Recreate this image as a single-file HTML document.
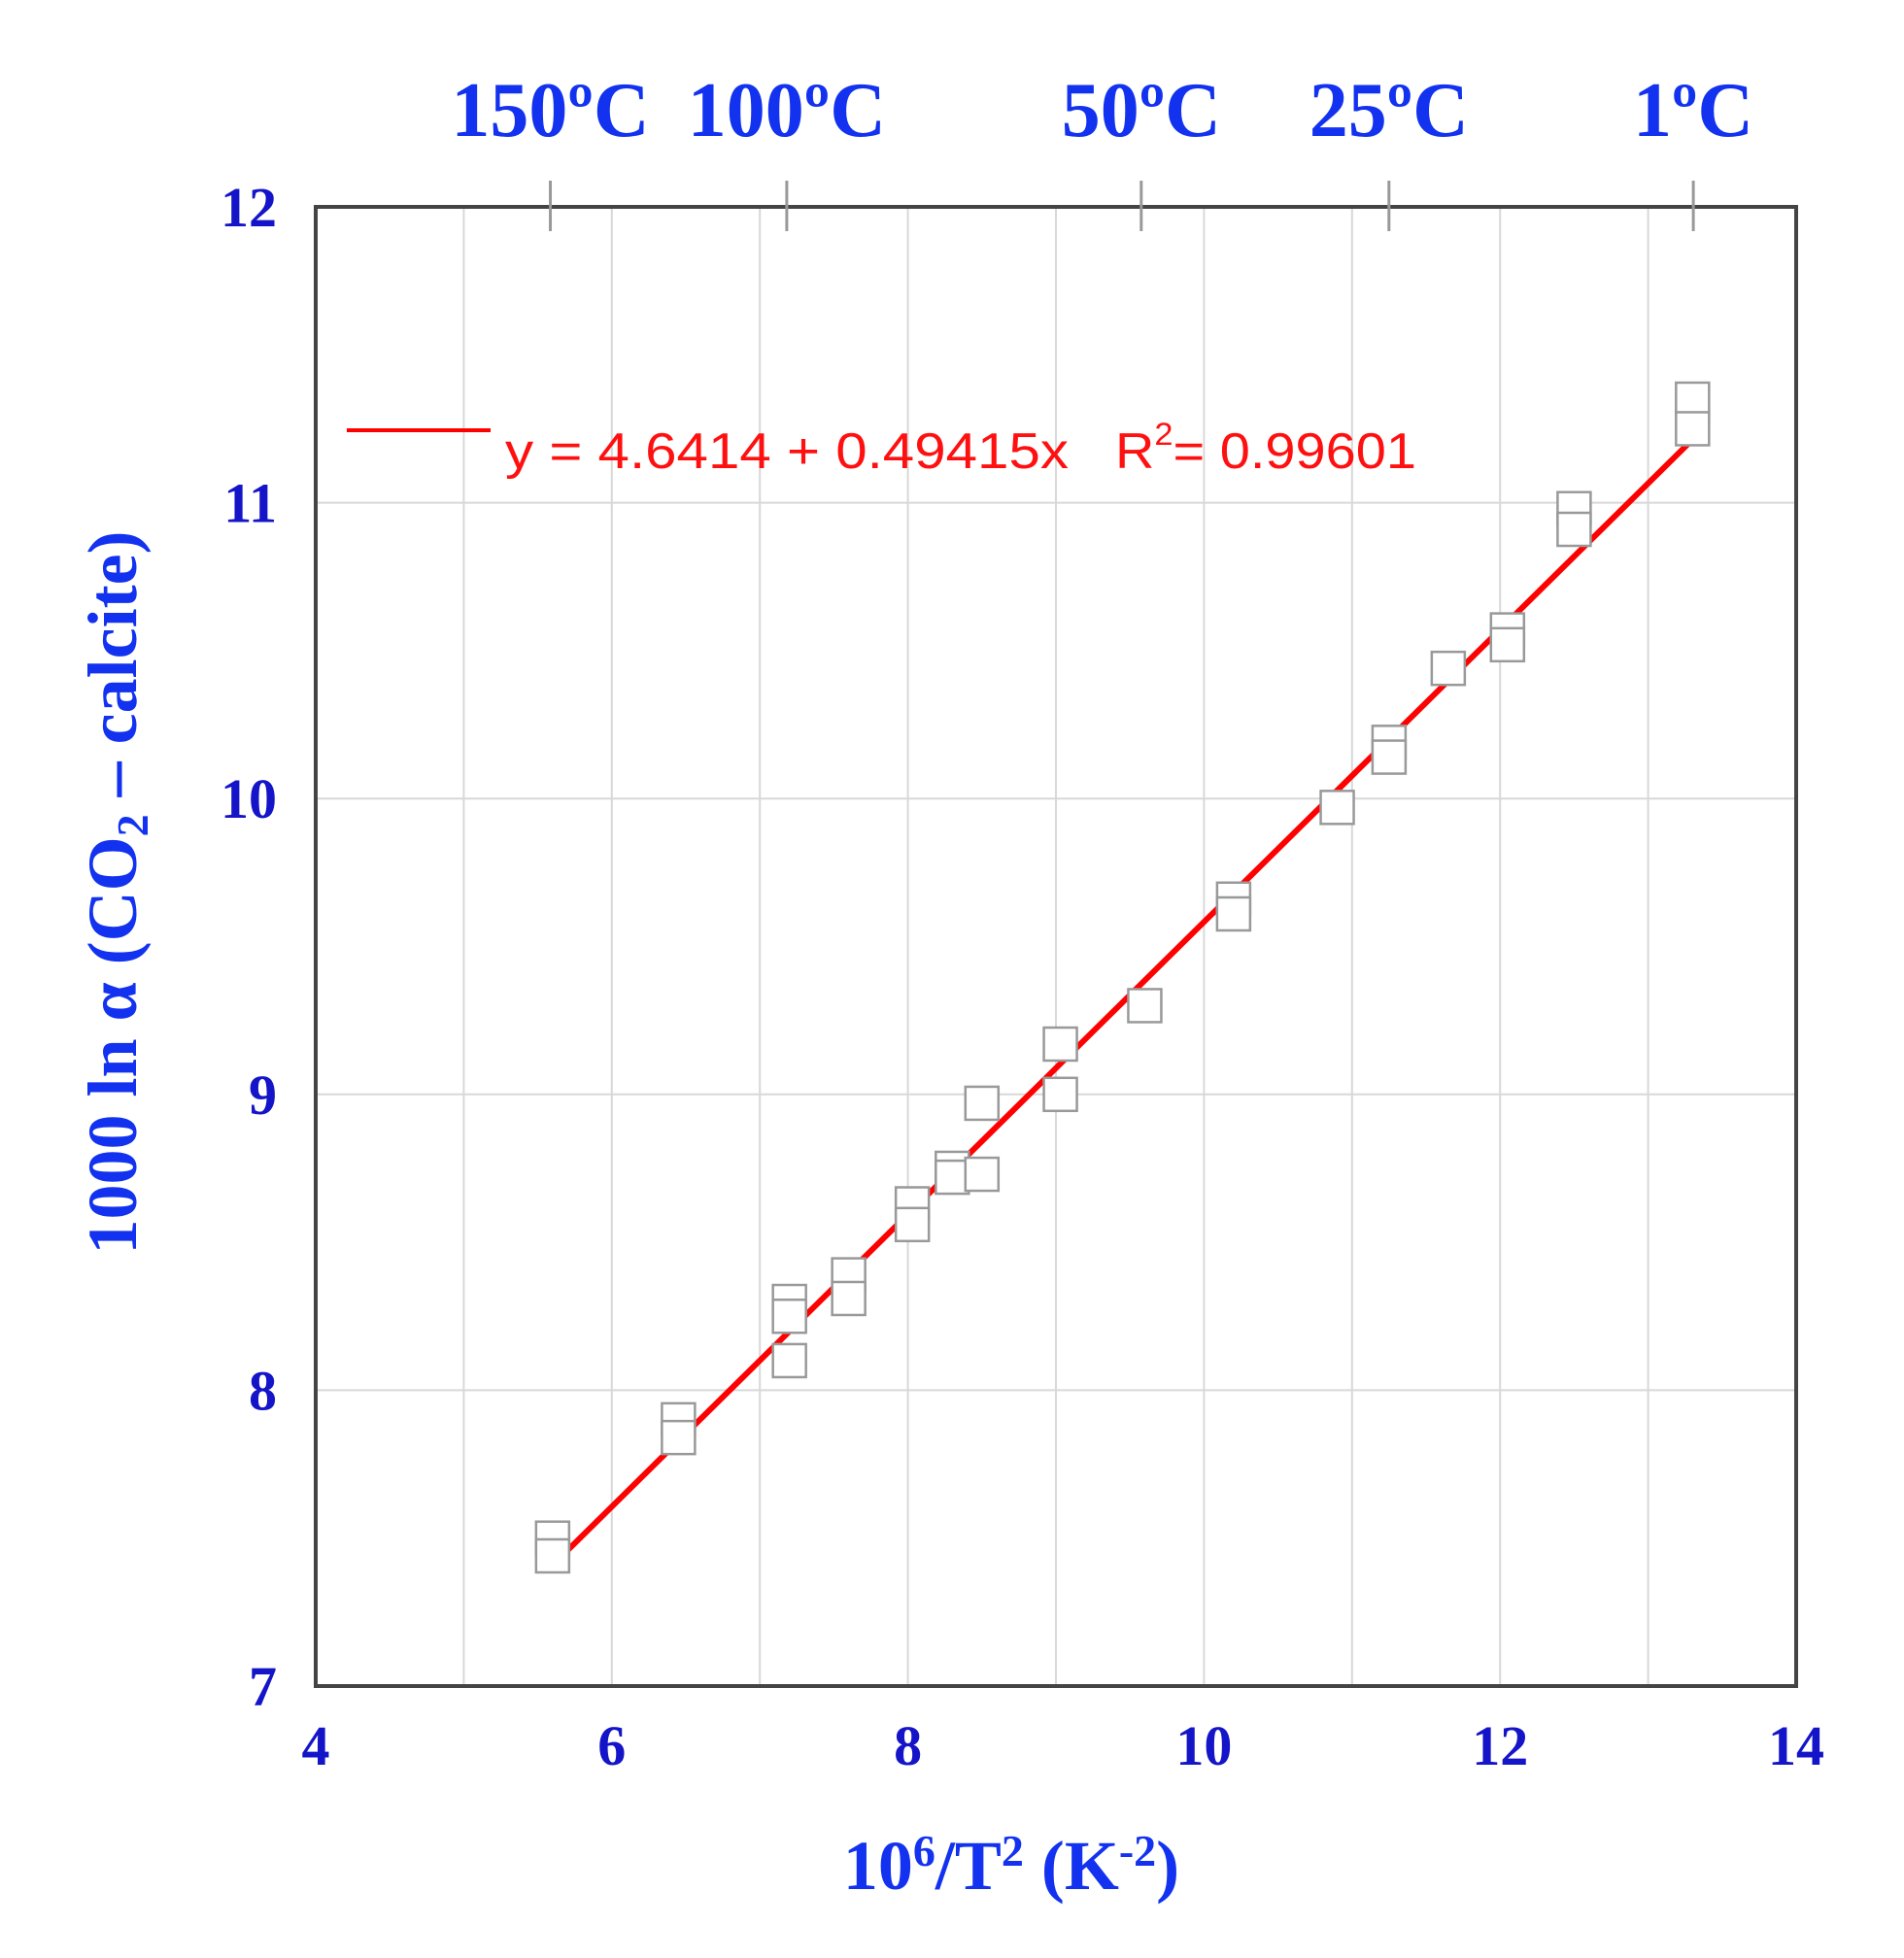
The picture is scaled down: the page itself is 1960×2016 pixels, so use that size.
<!DOCTYPE html>
<html><head><meta charset="utf-8"><style>
html,body{margin:0;padding:0;background:#fff}
svg{display:block}
.tick{font-family:"Liberation Serif",serif;font-weight:bold;font-size:58px;fill:#1414c8}
.top{font-family:"Liberation Serif",serif;font-weight:bold;font-size:80px;fill:#1232f0}
.title{font-family:"Liberation Serif",serif;font-weight:bold;font-size:72px;fill:#1232f0}
</style></head><body>
<svg id="chart" width="1960" height="2016" xmlns="http://www.w3.org/2000/svg">
<g id="grid"></g>
<g id="fit"></g>
<g id="pts"></g>
<rect x="325" y="213" width="1524" height="1523" fill="none" stroke="#444" stroke-width="4"/>
<g id="labels"></g>
<line x1="357" y1="443" x2="505" y2="443" stroke="#ff0000" stroke-width="4"/>
<text x="520" y="482" font-family="Liberation Sans, sans-serif" font-size="52" fill="#ff1010" textLength="580" lengthAdjust="spacingAndGlyphs">y = 4.6414 + 0.49415x</text>
<text x="1148" y="482" font-family="Liberation Sans, sans-serif" font-size="52" fill="#ff1010" textLength="310" lengthAdjust="spacingAndGlyphs">R<tspan font-size="32" dy="-24">2</tspan><tspan dy="24">= 0.99601</tspan></text>
<text class="title" transform="translate(140,919) rotate(-90)" text-anchor="middle">1000 ln α (CO<tspan font-size="46" dy="12">2</tspan><tspan dy="-12"> – calcite)</tspan></text>
<text class="title" x="1041" y="1945" text-anchor="middle">10<tspan font-size="46" dy="-24">6</tspan><tspan dy="24">/T</tspan><tspan font-size="46" dy="-24">2</tspan><tspan dy="24"> (K</tspan><tspan font-size="46" dy="-24">-2</tspan><tspan dy="24">)</tspan></text>
</svg>
<script>
const xTicks=[4,6,8,10,12,14];
const yTicks=[7,8,9,10,11,12];
const tempC=[150,100,50,25,1];
const tempLabels=["150ºC","100ºC","50ºC","25ºC","1ºC"];
const ptX=[5.6,5.6,6.45,6.45,7.2,7.2,7.2,7.6,7.6,8.03,8.03,8.3,8.3,8.5,8.5,9.03,9.03,9.6,10.2,10.2,10.9,11.25,11.25,11.65,12.05,12.05,12.5,12.5,13.3,13.3];
const ptY=[7.50,7.44,7.90,7.84,8.30,8.25,8.10,8.39,8.31,8.63,8.56,8.75,8.72,8.97,8.73,9.17,9.00,9.30,9.66,9.61,9.97,10.19,10.14,10.44,10.57,10.52,10.98,10.91,11.35,11.25];
const fitA=4.6414, fitB=0.49415, fitRange=[5.6,13.3];
const X0=325,X1=1849,Y0=1736,Y1=213;
const sx=v=>X0+(v-4)/(14-4)*(X1-X0);
const sy=v=>Y0-(v-7)/(12-7)*(Y0-Y1);
const NS="http://www.w3.org/2000/svg";
function mk(tag,parent,attrs){const e=document.createElementNS(NS,tag);for(const k in attrs)e.setAttribute(k,attrs[k]);parent.appendChild(e);return e;}
const grid=document.getElementById('grid'),labels=document.getElementById('labels');
for(let v=4;v<=14;v++){const l=mk('line',grid,{x1:sx(v),x2:sx(v),y1:Y1,y2:Y0,stroke:'#d8d8d8','stroke-width':2});

}
for(let v=7;v<=12;v++){const l=mk('line',grid,{x1:X0,x2:X1,y1:sy(v),y2:sy(v),stroke:'#d8d8d8','stroke-width':2});

}
xTicks.forEach(v=>{const t=mk('text',labels,{x:sx(v),y:1817,'text-anchor':'middle',class:'tick'});t.textContent=v;

});
yTicks.forEach(v=>{const t=mk('text',labels,{x:285,y:sy(v)+20,'text-anchor':'end',class:'tick'});t.textContent=v;

});
tempC.forEach((c,i)=>{const T=c+273.15;const xv=1e6/(T*T);
const l=mk('line',labels,{x1:sx(xv),x2:sx(xv),y1:186,y2:238,stroke:'#999','stroke-width':3});


const t=mk('text',labels,{x:sx(xv),y:140,'text-anchor':'middle',class:'top'});t.textContent=tempLabels[i];

});
const fit=document.getElementById('fit');
const fl=mk('line',fit,{x1:sx(fitRange[0]),y1:sy(fitA+fitB*fitRange[0]),x2:sx(fitRange[1]),y2:sy(fitA+fitB*fitRange[1]),stroke:'#ff0000','stroke-width':6});


const pts=document.getElementById('pts');
ptX.forEach((x,i)=>{const r=mk('rect',pts,{x:sx(x)-17,y:sy(ptY[i])-17,width:34,height:34,fill:'#fff',stroke:'#999','stroke-width':2.5});

});
</script>
</body></html>
